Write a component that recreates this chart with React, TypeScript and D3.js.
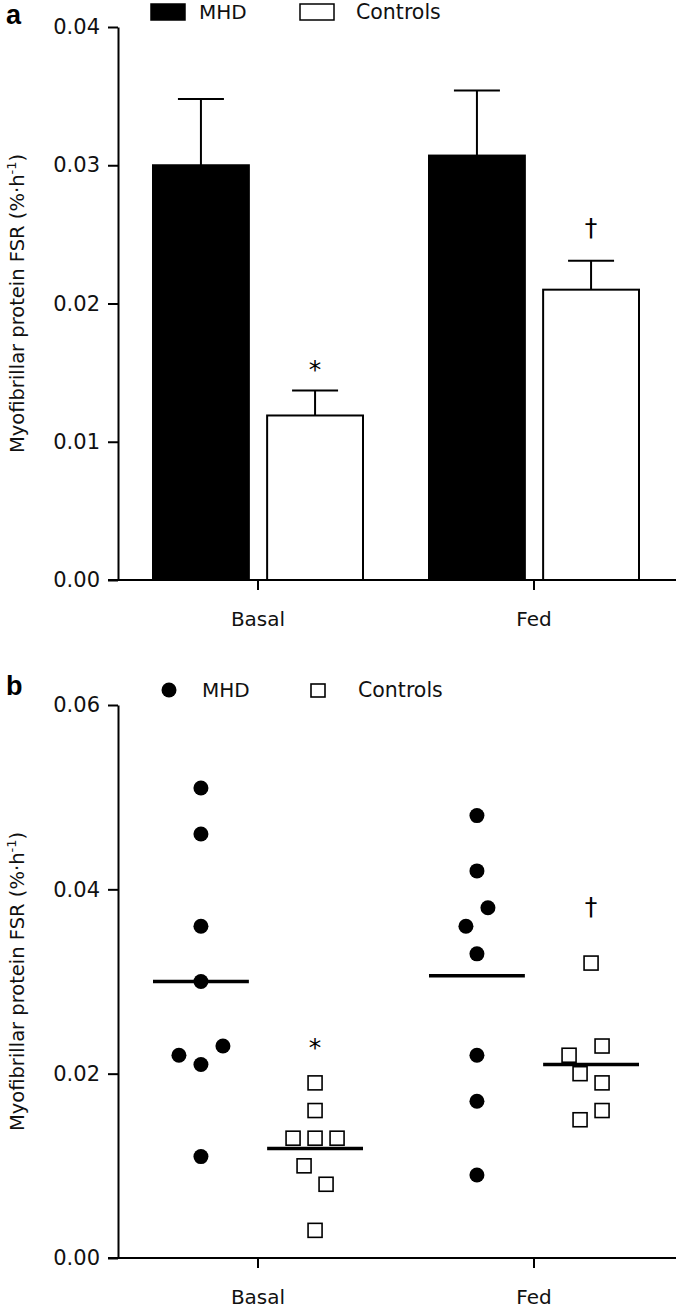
import React, { useEffect, useRef } from 'react';
import * as d3 from 'd3';

const groups = ['Basal', 'Fed'];
const series = ['MHD', 'Controls'];

// panel a: mean and SEM
const mhdMean = [0.03, 0.0307];
const mhdSem = [0.0048, 0.0047];
const ctrlMean = [0.0119, 0.021];
const ctrlSem = [0.0018, 0.0021];

// panel b: individual subjects
const mhdBasal = [0.051, 0.046, 0.036, 0.03, 0.023, 0.022, 0.021, 0.011];
const mhdFed = [0.048, 0.042, 0.038, 0.036, 0.033, 0.022, 0.017, 0.009];
const ctrlBasal = [0.019, 0.016, 0.013, 0.013, 0.013, 0.01, 0.008, 0.003];
const ctrlFed = [0.032, 0.023, 0.022, 0.02, 0.019, 0.016, 0.015];

// scatter slot of each subject (in half-marker steps)
const mhdBasalSlot = [0, 0, 0, 0, 2, -2, 0, 0];
const mhdFedSlot = [0, 0, 1, -1, 0, 0, 0, 0];
const ctrlBasalSlot = [0, 0, -2, 0, 2, -1, 1, 0];
const ctrlFedSlot = [0, 1, -2, -1, 1, 1, -1];

const ticksA = [0, 0.01, 0.02, 0.03, 0.04];
const ticksB = [0, 0.02, 0.04, 0.06];

// significance marks on controls, per group
const sigMarks = ['*', '†'];
const sigA = [0.0157, 0.0255];
const sigB = [0.0235, 0.0382];

const W = 678;
const H = 1308;
const FONT = "'DejaVu Sans', Verdana, sans-serif";

const App = () => {
  const svgRef = useRef<SVGSVGElement>(null);

  useEffect(() => {
    const svg = d3.select(svgRef.current);
    svg.selectAll('*').remove();

    const left = 118;
    const right = 676;

    const x0 = d3.scaleBand().domain(groups).range([120, 672]);
    const x1 = d3.scaleBand().domain(series).range([-105, 105]).paddingInner(0.16);
    const cx = (g: string, s: string) => x0(g)! + x0.bandwidth() / 2 + x1(s)! + x1.bandwidth() / 2;

    const drawAxes = (g: any, y: d3.ScaleLinear<number, number>, ticks: number[]) => {
      const ya = g.append('g')
        .attr('transform', `translate(${left},0)`)
        .call(d3.axisLeft(y).tickValues(ticks).tickFormat(d3.format('.2f')).tickSize(10).tickSizeOuter(0).tickPadding(8));
      ya.selectAll('path, line').attr('stroke', '#000').attr('stroke-width', 2);
      ya.selectAll('text').attr('font-family', FONT).attr('font-size', 21).attr('fill', '#111');

      const xa = g.append('g')
        .attr('transform', `translate(0,${y(0)})`)
        .call(d3.axisBottom(x0).tickSize(10).tickSizeOuter(0).tickPadding(22));
      xa.select('.domain').remove();
      xa.selectAll('line').attr('stroke', '#000').attr('stroke-width', 2);
      xa.selectAll('text').attr('font-family', FONT).attr('font-size', 20).attr('fill', '#111');

      g.append('line')
        .attr('x1', left - 10).attr('x2', right)
        .attr('y1', y(0)).attr('y2', y(0))
        .attr('stroke', '#000').attr('stroke-width', 2);

      const [y0, y1] = y.range();
      const title = g.append('text')
        .attr('transform', `translate(24,${(y0 + y1) / 2}) rotate(-90)`)
        .attr('text-anchor', 'middle')
        .attr('font-family', FONT)
        .attr('font-size', 19.5)
        .attr('fill', '#111');
      title.append('tspan').text('Myofibrillar protein FSR (%·h');
      title.append('tspan').text('-1').attr('font-size', 13).attr('dy', -8);
      title.append('tspan').text(')').attr('dy', 8);
    };

    // ---------- panel a ----------
    const ga = svg.append('g');
    const ya = d3.scaleLinear().domain([0, 0.04]).range([580, 27]);

    const bars = [
      ...groups.map((g, i) => ({ g, s: 'MHD', m: mhdMean[i], e: mhdSem[i] })),
      ...groups.map((g, i) => ({ g, s: 'Controls', m: ctrlMean[i], e: ctrlSem[i] })),
    ];

    // error bars (upper only)
    ga.selectAll('line.err')
      .data(bars)
      .enter()
      .append('line')
      .attr('x1', d => cx(d.g, d.s)).attr('x2', d => cx(d.g, d.s))
      .attr('y1', d => ya(d.m)).attr('y2', d => ya(d.m + d.e))
      .attr('stroke', '#000').attr('stroke-width', 2);
    ga.selectAll('line.cap')
      .data(bars)
      .enter()
      .append('line')
      .attr('x1', d => cx(d.g, d.s) - 23).attr('x2', d => cx(d.g, d.s) + 23)
      .attr('y1', d => ya(d.m + d.e)).attr('y2', d => ya(d.m + d.e))
      .attr('stroke', '#000').attr('stroke-width', 2);

    ga.selectAll('rect.bar')
      .data(bars)
      .enter()
      .append('rect')
      .attr('x', d => cx(d.g, d.s) - x1.bandwidth() / 2)
      .attr('width', x1.bandwidth())
      .attr('y', d => ya(d.m))
      .attr('height', d => ya(0) - ya(d.m))
      .attr('fill', d => (d.s === 'MHD' ? '#000' : '#fff'))
      .attr('stroke', '#000')
      .attr('stroke-width', 2);

    drawAxes(ga, ya, ticksA);

    ga.selectAll('text.sig')
      .data(groups)
      .enter()
      .append('text')
      .attr('x', g => cx(g, 'Controls'))
      .attr('y', (g, i) => ya(sigA[i]) + (i === 0 ? 15 : 9))
      .attr('text-anchor', 'middle')
      .attr('font-family', FONT)
      .attr('font-size', 25)
      .text((g, i) => sigMarks[i]);

    // legend a
    ga.append('text').attr('x', 6).attr('y', 24).attr('font-family', 'Arial, Liberation Sans, sans-serif')
      .attr('font-weight', 'bold').attr('font-size', 27).text('a');
    ga.append('rect').attr('x', 151).attr('y', 4).attr('width', 34).attr('height', 16).attr('fill', '#000').attr('stroke', '#000').attr('stroke-width', 1.5);
    ga.append('text').attr('x', 199).attr('y', 19).attr('font-family', FONT).attr('font-size', 20).attr('fill', '#111').text('MHD');
    ga.append('rect').attr('x', 300).attr('y', 4).attr('width', 34).attr('height', 16).attr('fill', '#fff').attr('stroke', '#000').attr('stroke-width', 1.5);
    ga.append('text').attr('x', 356).attr('y', 19).attr('font-family', FONT).attr('font-size', 20.5).attr('fill', '#111').text('Controls');

    // ---------- panel b ----------
    const gb = svg.append('g');
    const yb = d3.scaleLinear().domain([0, 0.06]).range([1258, 705]);
    drawAxes(gb, yb, ticksB);

    const step = 11;
    const pts = [
      ...mhdBasal.map((v, i) => ({ g: 'Basal', s: 'MHD', v, k: mhdBasalSlot[i] })),
      ...mhdFed.map((v, i) => ({ g: 'Fed', s: 'MHD', v, k: mhdFedSlot[i] })),
      ...ctrlBasal.map((v, i) => ({ g: 'Basal', s: 'Controls', v, k: ctrlBasalSlot[i] })),
      ...ctrlFed.map((v, i) => ({ g: 'Fed', s: 'Controls', v, k: ctrlFedSlot[i] })),
    ];

    gb.selectAll('circle.pt')
      .data(pts.filter(d => d.s === 'MHD'))
      .enter()
      .append('circle')
      .attr('cx', d => cx(d.g, d.s) + d.k * step)
      .attr('cy', d => yb(d.v))
      .attr('r', 7.5)
      .attr('fill', '#000');

    gb.selectAll('rect.pt')
      .data(pts.filter(d => d.s === 'Controls'))
      .enter()
      .append('rect')
      .attr('x', d => cx(d.g, d.s) + d.k * step - 7)
      .attr('y', d => yb(d.v) - 7)
      .attr('width', 14)
      .attr('height', 14)
      .attr('fill', '#fff')
      .attr('stroke', '#000')
      .attr('stroke-width', 1.6);

    const means = [
      ...groups.map((g, i) => ({ g, s: 'MHD', m: d3.mean(i === 0 ? mhdBasal : mhdFed)! })),
      ...groups.map((g, i) => ({ g, s: 'Controls', m: d3.mean(i === 0 ? ctrlBasal : ctrlFed)! })),
    ];
    gb.selectAll('line.mean')
      .data(means)
      .enter()
      .append('line')
      .attr('x1', d => cx(d.g, d.s) - x1.bandwidth() / 2)
      .attr('x2', d => cx(d.g, d.s) + x1.bandwidth() / 2)
      .attr('y1', d => yb(d.m)).attr('y2', d => yb(d.m))
      .attr('stroke', '#000').attr('stroke-width', 3.5);

    gb.selectAll('text.sig')
      .data(groups)
      .enter()
      .append('text')
      .attr('x', g => cx(g, 'Controls'))
      .attr('y', (g, i) => yb(sigB[i]) + (i === 0 ? 15 : 9))
      .attr('text-anchor', 'middle')
      .attr('font-family', FONT)
      .attr('font-size', 25)
      .text((g, i) => sigMarks[i]);

    // legend b
    gb.append('text').attr('x', 6).attr('y', 695).attr('font-family', 'Arial, Liberation Sans, sans-serif')
      .attr('font-weight', 'bold').attr('font-size', 27).text('b');
    gb.append('circle').attr('cx', 169).attr('cy', 690).attr('r', 7.5).attr('fill', '#000');
    gb.append('text').attr('x', 202).attr('y', 697).attr('font-family', FONT).attr('font-size', 20).attr('fill', '#111').text('MHD');
    gb.append('rect').attr('x', 311).attr('y', 684).attr('width', 14).attr('height', 13).attr('fill', '#fff').attr('stroke', '#000').attr('stroke-width', 1.6);
    gb.append('text').attr('x', 358).attr('y', 697).attr('font-family', FONT).attr('font-size', 20.5).attr('fill', '#111').text('Controls');
  }, []);

  return (
    <svg
      ref={svgRef}
      width={W}
      height={H}
      style={{ position: 'absolute', left: 0, top: 0, background: '#fff' }}
    />
  );
};

export default App;
